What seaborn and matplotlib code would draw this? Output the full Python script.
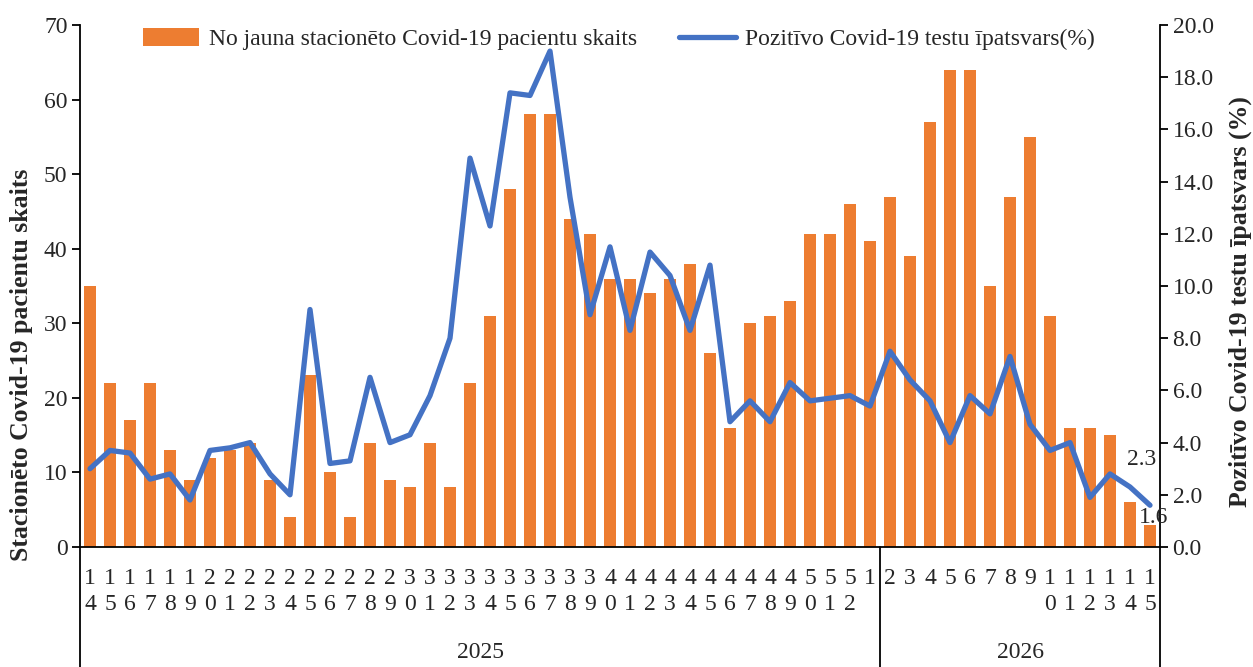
import numpy as np
import pandas as pd
import matplotlib
matplotlib.use("Agg")
import matplotlib.pyplot as plt
import seaborn as sns
from matplotlib.lines import Line2D
from matplotlib.patches import Patch

# ---------------- data ----------------
weeks = list(range(14, 53)) + [1] + list(range(2, 16))
years = ["2025"] * 40 + ["2026"] * 14
patients = [35, 22, 17, 22, 13, 9, 12, 13, 14, 9, 4, 23, 10, 4, 14, 9, 8, 14, 8, 22,
            31, 48, 58, 58, 44, 42, 36, 36, 34, 36, 38, 26, 16, 30, 31, 33, 42, 42, 46,
            41,
            47, 39, 57, 64, 64, 35, 47, 55, 31, 16, 16, 15, 6, 3]
positivity = [3.0, 3.7, 3.6, 2.6, 2.8, 1.8, 3.7, 3.8, 4.0, 2.8, 2.0, 9.1, 3.2, 3.3, 6.5,
              4.0, 4.3, 5.8, 8.0, 14.9, 12.3, 17.4, 17.3, 19.0, 13.4, 8.9, 11.5, 8.3,
              11.3, 10.4, 8.3, 10.8, 4.8, 5.6, 4.8, 6.3, 5.6, 5.7, 5.8,
              5.4,
              7.5, 6.4, 5.6, 4.0, 5.8, 5.1, 7.3, 4.7, 3.7, 4.0, 1.9, 2.8, 2.3, 1.6]
bar_label = "No jauna stacionēto Covid-19 pacientu skaits"
line_label = "Pozitīvo Covid-19 testu īpatsvars(%)"
left_title = "Stacionēto Covid-19 pacientu skaits"
right_title = "Pozitīvo Covid-19 testu īpatsvars (%)"

ORANGE = "#ED7D31"
BLUE = "#4472C4"

sns.set_theme(style="white")
plt.rcParams['font.family'] = ['Liberation Serif', 'DejaVu Serif']
FS = 17
FS_LAB = 18.5

n = len(weeks)
df = pd.DataFrame({"idx": np.arange(n), "patients": patients, "pos": positivity,
                   "year": years})

fig = plt.figure(figsize=(12.53, 6.67), dpi=100)
ax = fig.add_axes([80 / 1253, 120 / 667, 1080 / 1253, 522 / 667])

sns.barplot(data=df, x="idx", y="patients", color=ORANGE, saturation=1,
            width=0.6, linewidth=0, ax=ax)
ax2 = ax.twinx()
sns.lineplot(data=df, x="idx", y="pos", color=BLUE, lw=3.8, ax=ax2)

ax.set_xlim(-0.5, n - 0.5)
ax.set_ylim(0, 70)
ax.set_yticks(range(0, 71, 10))
ax2.set_ylim(0, 20)
ax2.set_yticks(np.arange(0, 20.1, 2))
ax2.set_yticklabels([f"{v:.1f}" for v in np.arange(0, 20.1, 2)])

ax.set_xticks(range(n))
ax.set_xticklabels(["\n".join(str(w)) for w in weeks], fontsize=FS, linespacing=1.35)
ax.tick_params(axis="x", length=0, pad=15)
ax.tick_params(axis="y", direction="out", length=6, width=1.3, color="black",
               labelsize=FS, pad=3, left=True)
ax2.tick_params(axis="y", direction="out", length=6, width=1.3, color="black",
                labelsize=FS, pad=3, right=True)
ax2.tick_params(axis="x", length=0)

for a in (ax, ax2):
    for s in a.spines.values():
        s.set_color("black")
        s.set_linewidth(1.3)
ax.spines["top"].set_visible(False)
ax.spines["right"].set_visible(False)
ax2.spines["top"].set_visible(False)
ax2.spines["left"].set_visible(False)
ax2.spines["bottom"].set_visible(False)

ax.set_xlabel("")
ax2.set_xlabel("")
ax.set_ylabel(left_title, fontsize=FS_LAB, fontweight="bold")
ax2.set_ylabel(right_title, fontsize=FS_LAB, fontweight="bold")
ax.yaxis.set_label_coords((22 - 80) / 1080, (547 - 365) / 522)
ax.yaxis.label.set_va("center")
ax2.yaxis.set_label_coords((1240 - 80) / 1080, (547 - 302) / 522)
ax2.yaxis.label.set_va("center")

# year group labels and separators
trans = ax.get_xaxis_transform()
depth = -120 / 522
for xs in (-0.5, 39.5, n - 0.5):
    ax.add_line(Line2D([xs, xs], [0, depth], transform=trans, color="black",
                       lw=1.3, clip_on=False))
year_list = list(dict.fromkeys(years))
for yv in year_list:
    ids = [i for i, y in enumerate(years) if y == yv]
    xc = (ids[0] - 0.5 + ids[-1] + 0.5) / 2
    ax.text(xc, -105 / 522, yv, transform=trans, ha="center", va="center",
            fontsize=FS)

# end labels
ax2.annotate(f"{positivity[-2]:.1f}", (n - 2, positivity[-2]), xytext=(12, 27),
             textcoords="offset pixels", ha="center", va="center", fontsize=FS)
ax2.annotate(f"{positivity[-1]:.1f}", (n - 1, positivity[-1]), xytext=(4, -12),
             textcoords="offset pixels", ha="center", va="center", fontsize=FS)

handles = [Patch(facecolor=ORANGE, edgecolor="none"),
           Line2D([0], [0], color=BLUE, lw=3.8)]
ax.legend(handles, [bar_label, line_label], loc="upper center",
          bbox_to_anchor=(0.499, 1.035), ncol=2, frameon=False, fontsize=FS,
          handlelength=2.4, handleheight=0.8, columnspacing=1.8, handletextpad=0.4)

fig.savefig("out.png", dpi=100)
